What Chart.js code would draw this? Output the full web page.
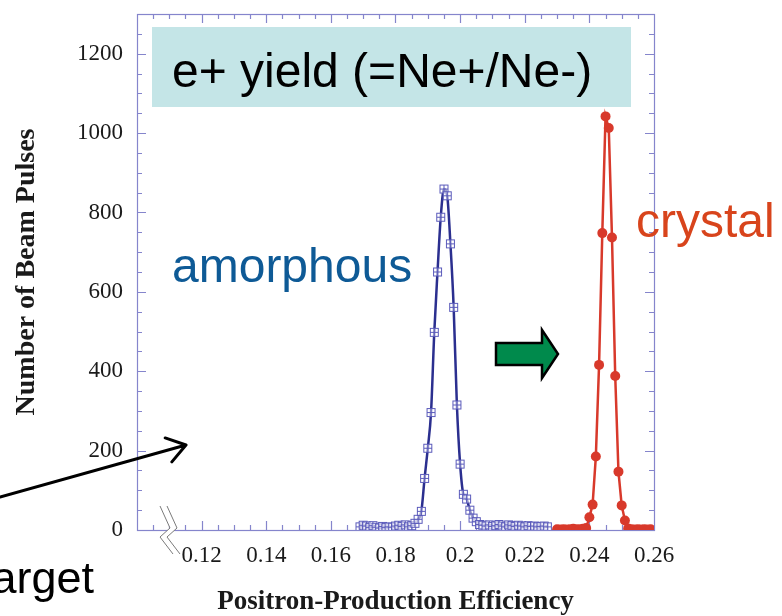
<!DOCTYPE html>
<html>
<head>
<meta charset="utf-8">
<script src="https://cdn.jsdelivr.net/npm/chart.js@4.4.0/dist/chart.umd.min.js"></script>
<style>
  html, body { margin: 0; padding: 0; background: #fff; }
  #wrap { width: 782px; height: 616px; }
</style>
</head>
<body>
<div id="wrap"><canvas id="c" width="782" height="616"></canvas></div>
<script>
// efficiency bins and counts
const amorphousX = [0.169, 0.170, 0.171, 0.172, 0.173, 0.174, 0.175, 0.176, 0.177, 0.178,
  0.179, 0.180, 0.181, 0.182, 0.183, 0.184, 0.185, 0.186, 0.187, 0.188,
  0.189, 0.190, 0.191, 0.192, 0.193, 0.194, 0.195, 0.196, 0.197, 0.198,
  0.199, 0.200, 0.201, 0.202, 0.203, 0.204, 0.205, 0.206, 0.207, 0.208,
  0.209, 0.210, 0.211, 0.212, 0.213, 0.214, 0.215, 0.216, 0.217, 0.218,
  0.219, 0.220, 0.221, 0.222, 0.223, 0.224, 0.225, 0.226, 0.227];
const amorphousY = [8, 12, 10, 6, 11, 7, 5, 9, 6, 8,
  7, 10, 12, 9, 13, 8, 11, 17, 27, 47,
  130, 206, 296, 498, 650, 788, 859, 842, 721, 561,
  315, 166, 90, 78, 50, 30, 21, 14, 12, 10,
  13, 9, 11, 14, 10, 8, 13, 11, 9, 12,
  10, 8, 11, 9, 10, 8, 9, 10, 8];

const crystalX = [0.230, 0.231, 0.232, 0.233, 0.234, 0.235, 0.236, 0.237, 0.238, 0.239,
  0.240, 0.241, 0.242, 0.243, 0.244, 0.245, 0.246, 0.247, 0.248, 0.249,
  0.250, 0.251, 0.252, 0.253, 0.254, 0.255, 0.256, 0.257, 0.258, 0.259];
const crystalY = [2, 1, 2, 1, 2, 3, 2, 2, 3, 5,
  32, 64, 185, 416, 748, 1042, 1013, 737, 388, 147,
  62, 24, 4, 2, 1, 2, 1, 2, 1, 2];

const xTicks = [0.12, 0.14, 0.16, 0.18, 0.2, 0.22, 0.24, 0.26];
const xTickLabels = ['0.12', '0.14', '0.16', '0.18', '0.2', '0.22', '0.24', '0.26'];
const yTicks = [0, 200, 400, 600, 800, 1000, 1200];

const axisColor = '#8585cc';
const serif = '"Liberation Serif", "Times New Roman", serif';
const sans = '"Liberation Sans", Arial, sans-serif';

// square with a cross, the open marker of the amorphous run
function crossSquare() {
  const c = document.createElement('canvas');
  c.width = 11; c.height = 11;
  const g = c.getContext('2d');
  g.fillStyle = 'rgba(255,255,255,0.55)';
  g.fillRect(1, 1, 9, 9);
  g.strokeStyle = '#5b5bbb';
  g.lineWidth = 1;
  g.strokeRect(1.5, 1.5, 8, 8);
  g.beginPath();
  g.moveTo(5.5, 1.5); g.lineTo(5.5, 9.5);
  g.moveTo(1.5, 5.5); g.lineTo(9.5, 5.5);
  g.stroke();
  return c;
}

// box, inward ticks, and the cyan label behind the data
const frame = {
  id: 'frame',
  beforeDatasetsDraw(chart) {
    const { ctx, chartArea: a, scales: { x, y } } = chart;
    ctx.save();
    ctx.fillStyle = '#c4e5e7';
    ctx.fillRect(152, 27, 479, 80);
    ctx.fillStyle = '#000';
    ctx.font = '48px ' + sans;
    ctx.textBaseline = 'alphabetic';
    ctx.fillText('e+ yield (=Ne+/Ne-)', 172, 87);

    ctx.strokeStyle = axisColor;
    ctx.lineWidth = 1.2;
    ctx.strokeRect(Math.round(a.left) + 0.5, Math.round(a.top) + 0.5,
      Math.round(a.right - a.left), Math.round(a.bottom - a.top));

    ctx.beginPath();
    for (let i = 1; i < 26; i++) {
      const v = i * 50;
      const py = Math.round(y.getPixelForValue(v)) + 0.5;
      const len = v % 200 === 0 ? 9 : 5;
      ctx.moveTo(a.left, py); ctx.lineTo(a.left + len, py);
      ctx.moveTo(a.right, py); ctx.lineTo(a.right - len, py);
    }
    for (let i = 1; i < 32; i++) {
      const v = 0.1 + i * 0.005;
      const px = Math.round(x.getPixelForValue(v)) + 0.5;
      const len = i % 4 === 0 ? 9 : 5;
      ctx.moveTo(px, a.bottom); ctx.lineTo(px, a.bottom - len);
      ctx.moveTo(px, a.top); ctx.lineTo(px, a.top + len);
    }
    ctx.stroke();
    ctx.restore();
  },
  afterDraw(chart) {
    const ctx = chart.ctx;
    ctx.save();
    // axis break
    ctx.fillStyle = '#fff';
    ctx.beginPath();
    ctx.moveTo(160, 506); ctx.lineTo(170, 528); ctx.lineTo(160, 537); ctx.lineTo(173, 554);
    ctx.lineTo(180, 554); ctx.lineTo(167, 537); ctx.lineTo(177, 528); ctx.lineTo(167, 506);
    ctx.closePath();
    ctx.fill();
    ctx.strokeStyle = '#7a7a7a';
    ctx.lineWidth = 1;
    ctx.beginPath();
    ctx.moveTo(160, 506); ctx.lineTo(170, 528); ctx.lineTo(160, 537); ctx.lineTo(173, 554);
    ctx.moveTo(167, 506); ctx.lineTo(177, 528); ctx.lineTo(167, 537); ctx.lineTo(180, 554);
    ctx.stroke();

    // labels
    ctx.font = '48px ' + sans;
    ctx.fillStyle = '#0e5a96';
    ctx.fillText('amorphous', 172, 282);
    ctx.fillStyle = '#d8441c';
    ctx.fillText('crystal', 636, 237);
    ctx.fillStyle = '#000';
    ctx.font = '45px ' + sans;
    ctx.fillText('Target', -31, 593);

    // black pointer
    const x0 = 0, y0 = 497, x1 = 186, y1 = 445;
    const ang = Math.atan2(y1 - y0, x1 - x0);
    ctx.strokeStyle = '#000';
    ctx.lineWidth = 3;
    ctx.lineCap = 'round';
    ctx.lineJoin = 'round';
    ctx.beginPath();
    ctx.moveTo(x0, y0); ctx.lineTo(x1, y1);
    ctx.moveTo(x1 - 22 * Math.cos(ang - 0.6), y1 - 22 * Math.sin(ang - 0.6));
    ctx.lineTo(x1, y1);
    ctx.lineTo(x1 - 22 * Math.cos(ang + 0.6), y1 - 22 * Math.sin(ang + 0.6));
    ctx.stroke();

    // green block arrow
    ctx.fillStyle = '#008a4c';
    ctx.lineWidth = 2.5;
    ctx.lineJoin = 'miter';
    ctx.beginPath();
    ctx.moveTo(496, 343); ctx.lineTo(542, 343); ctx.lineTo(542, 330);
    ctx.lineTo(558, 354); ctx.lineTo(542, 378); ctx.lineTo(542, 365);
    ctx.lineTo(496, 365); ctx.closePath();
    ctx.fill();
    ctx.stroke();
    ctx.restore();
  }
};

const amorphousData = amorphousX.map((v, i) => ({ x: v, y: amorphousY[i] }));
const crystalData = crystalX.map((v, i) => ({ x: v, y: crystalY[i] }));

new Chart(document.getElementById('c'), {
  type: 'scatter',
  data: {
    datasets: [
      {
        label: 'amorphous',
        data: amorphousData,
        showLine: true,
        borderColor: '#2b2f8f',
        borderWidth: 2.5,
        cubicInterpolationMode: 'monotone',
        pointStyle: crossSquare(),
        pointRadius: 5,
        pointHoverRadius: 5
      },
      {
        label: 'crystal',
        data: crystalData,
        showLine: true,
        borderColor: '#d8392b',
        backgroundColor: '#d8392b',
        borderWidth: 2.5,
        pointRadius: 5,
        pointHoverRadius: 5,
        pointBorderWidth: 0
      }
    ]
  },
  options: {
    responsive: false,
    animation: false,
    devicePixelRatio: 1,
    layout: { padding: { top: 14, right: 128, left: 0, bottom: 0 } },
    plugins: {
      legend: { display: false },
      tooltip: { enabled: false }
    },
    scales: {
      x: {
        type: 'linear',
        position: 'bottom',
        min: 0.1,
        max: 0.26,
        grid: { display: false, drawTicks: false },
        border: { display: false },
        afterBuildTicks: s => { s.ticks = xTicks.map(v => ({ value: v })); },
        afterFit: s => { s.height = 86; s.paddingLeft = 0; s.paddingRight = 0; },
        ticks: {
          autoSkip: false,
          maxRotation: 0,
          padding: 12,
          color: '#1a1a1a',
          font: { family: serif, size: 23 },
          callback: (v, i) => xTickLabels[i]
        },
        title: {
          display: true,
          text: 'Positron-Production Efficiency',
          color: '#1a1a1a',
          font: { family: serif, size: 27, weight: 'bold', lineHeight: 1 },
          padding: { top: 0, bottom: 0 }
        }
      },
      y: {
        min: 0,
        max: 1300,
        grid: { display: false, drawTicks: false },
        border: { display: false },
        afterBuildTicks: s => { s.ticks = yTicks.map(v => ({ value: v })); },
        afterFit: s => { s.width = 137; s.paddingTop = 0; s.paddingBottom = 0; },
        ticks: {
          padding: 14,
          color: '#1a1a1a',
          font: { family: serif, size: 23 },
          callback: v => String(v)
        },
        title: {
          display: true,
          text: 'Number of Beam Pulses',
          color: '#1a1a1a',
          font: { family: serif, size: 28, weight: 'bold', lineHeight: 1 },
          padding: { top: 13, bottom: 0 }
        }
      }
    }
  },
  plugins: [frame]
});
</script>
</body>
</html>
